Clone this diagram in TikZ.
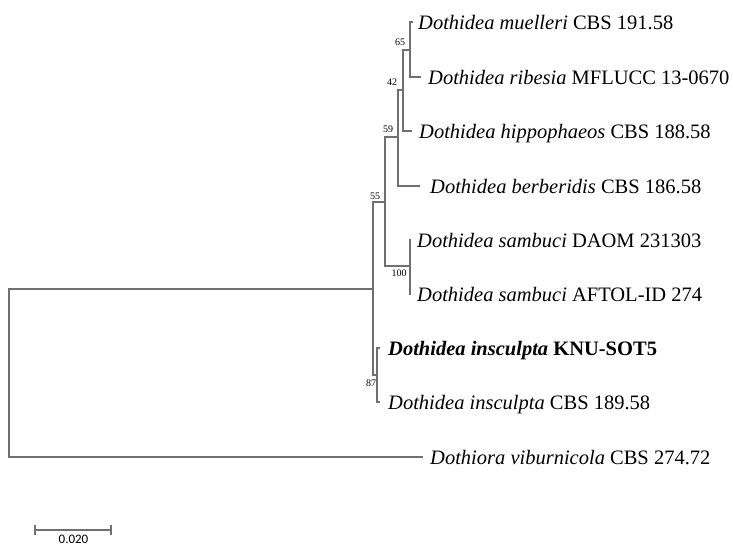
\documentclass[tikz,border=0pt]{standalone}
\usepackage{fontspec}
\setmainfont{Liberation Serif}
\newfontfamily\sbfont{Carlito}
\definecolor{brc}{RGB}{112,112,112}
\begin{document}
\begin{tikzpicture}[x=1pt,y=-1pt,
  br/.style={draw=brc, line width=1.4pt},
  leaf/.style={font=\fontsize{20.5}{24}\selectfont, inner sep=0pt, anchor=base west},
  bs/.style={font=\fontsize{10}{11}\selectfont, inner sep=0pt, anchor=center},
  sblabel/.style={font=\sbfont\fontsize{13}{15}\selectfont, inner sep=0pt, anchor=center}]
\useasboundingbox (0,0) rectangle (733,546);
% internal nodes
\coordinate (root) at (9,373);
\coordinate (nA) at (373,289);
\coordinate (n55) at (385,202);
\coordinate (n59) at (398,137);
\coordinate (n42) at (403,90);
\coordinate (n65) at (410,50);
\coordinate (n100) at (410,266);
\coordinate (n87) at (377,375);
% tips
\coordinate (t1) at (413,22);
\coordinate (t2) at (421,77);
\coordinate (t3) at (412,131);
\coordinate (t4) at (420,186);
\coordinate (t5) at (411,240);
\coordinate (t6) at (411,294);
\coordinate (t7) at (380,348);
\coordinate (t8) at (380,402);
\coordinate (t9) at (423,457);
% labels
\node[leaf] (L1) at (418,29) {\textit{Dothidea muelleri} CBS 191.58};
\node[leaf] (L2) at (428,84) {\textit{Dothidea ribesia} MFLUCC 13-0670};
\node[leaf] (L3) at (419,138) {\textit{Dothidea hippophaeos} CBS 188.58};
\node[leaf] (L4) at (430,193) {\textit{Dothidea berberidis} CBS 186.58};
\node[leaf] (L5) at (417,247) {\textit{Dothidea sambuci} DAOM 231303};
\node[leaf] (L6) at (417,301) {\textit{Dothidea sambuci} AFTOL-ID 274};
\node[leaf] (L7) at (388,355) {\textbf{\textit{Dothidea insculpta} KNU-SOT5}};
\node[leaf] (L8) at (388,409) {\textit{Dothidea insculpta} CBS 189.58};
\node[leaf] (L9) at (430,464) {\textit{Dothiora viburnicola} CBS 274.72};
% branches
\draw[br] (root) |- (nA);
\draw[br] (root) |- (t9);
\draw[br] (nA) |- (n55);
\draw[br] (nA) |- (n87);
\draw[br] (n55) |- (n59);
\draw[br] (n55) |- (n100);
\draw[br] (n59) |- (n42);
\draw[br] (n59) |- (t4);
\draw[br] (n42) |- (n65);
\draw[br] (n42) |- (t3);
\draw[br] (n65) |- (t1);
\draw[br] (n65) |- (t2);
\draw[br] (n100) |- (t5);
\draw[br] (n100) |- (t6);
\draw[br] (n87) |- (t7);
\draw[br] (n87) |- (t8);
% bootstrap values
\node[bs] (b65) at ([shift={(-10,-8)}]n65) {65};
\node[bs] (b42) at ([shift={(-11,-8)}]n42) {42};
\node[bs] (b59) at ([shift={(-10,-8)}]n59) {59};
\node[bs] (b55) at ([shift={(-10,-6)}]n55) {55};
\node[bs] (b100) at ([shift={(-11,7)}]n100) {100};
\node[bs] (b87) at ([shift={(-6,8)}]n87) {87};
% scale bar
\coordinate (s1) at (35,530);
\coordinate (s2) at (111,530);
\draw[br] (s1) -- (s2);
\draw[br] ([yshift=5pt]s1) -- ([yshift=-5pt]s1);
\draw[br] ([yshift=5pt]s2) -- ([yshift=-5pt]s2);
\node[sblabel] (sbl) at (73.5,539.5) {0.020};
\end{tikzpicture}
\end{document}
